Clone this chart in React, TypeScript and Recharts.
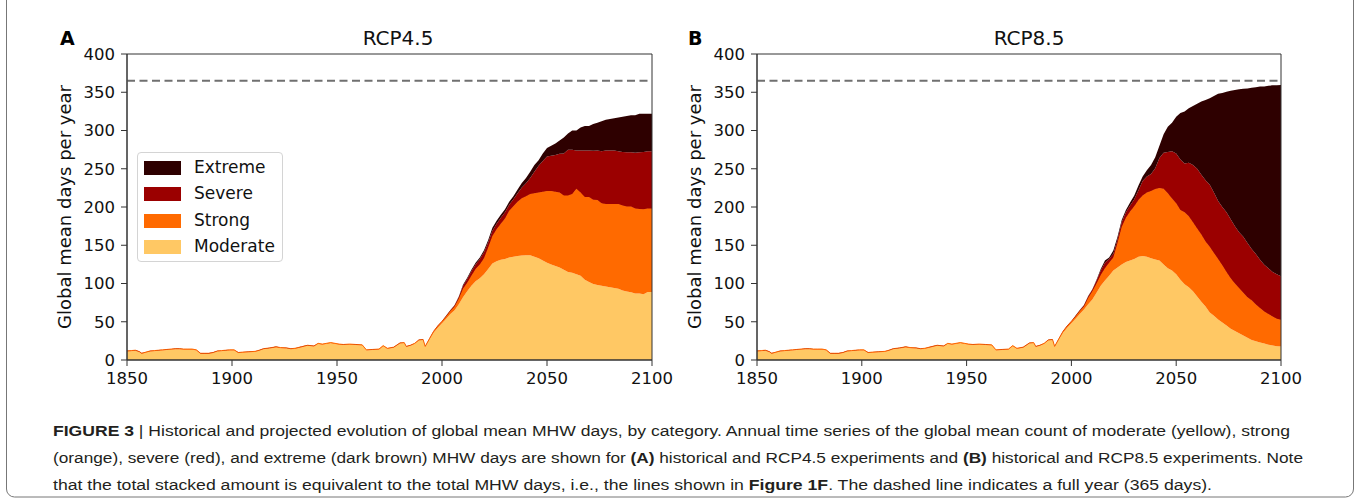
import React from 'react';
import { AreaChart, Area, XAxis, YAxis, ReferenceLine, ReferenceArea, Legend } from 'recharts';

// historical period, shared by both panels
const histYears = [
  1850, 1852, 1854, 1856, 1857, 1859, 1861, 1863, 1865, 1867,
  1869, 1871, 1873, 1875, 1877, 1879, 1881, 1883, 1885, 1887,
  1889, 1891, 1893, 1895, 1897, 1899, 1901, 1903, 1905, 1908,
  1911, 1913, 1915, 1918, 1921, 1923, 1926, 1928, 1930, 1933,
  1936, 1939, 1941, 1943, 1945, 1947, 1949, 1951, 1953, 1956,
  1959, 1962, 1964, 1967, 1970, 1972, 1974, 1977, 1980, 1982,
  1983, 1985, 1987, 1989, 1991, 1992, 1994, 1996, 1998, 2000,
  2002, 2004,
];
const histModerate = [
  11, 11.5, 12, 10, 8, 9.5, 11, 11.5, 12, 12.5,
  13, 13.5, 14, 14, 13.5, 13.5, 13.5, 12.5, 8, 8,
  8, 9, 11, 11.5, 12, 12.5, 12.5, 9, 9.5, 10,
  10.5, 12, 14, 15, 16.5, 15.5, 15, 14, 14.5, 16.5,
  18.5, 17.5, 21, 20, 21, 22, 21, 20, 19.5, 20,
  19.5, 19, 12.5, 13, 13.5, 18, 14.5, 16, 21.5, 22,
  17, 18.5, 21, 25.5, 26, 17, 26.5, 35.5, 42, 48,
  54, 60,
];
const histStrong = [
  0.8, 0.8, 0.8, 0.8, 0.8, 0.8, 0.8, 0.8, 0.8, 0.8,
  0.8, 0.8, 0.8, 0.8, 0.8, 0.8, 0.8, 0.8, 0.8, 0.8,
  0.8, 0.8, 0.8, 0.8, 0.8, 0.8, 0.8, 0.8, 0.8, 0.8,
  0.8, 0.8, 0.8, 0.8, 0.8, 0.8, 0.8, 0.8, 0.8, 0.8,
  0.8, 0.8, 0.8, 0.8, 0.8, 0.8, 0.8, 0.8, 0.8, 0.8,
  0.8, 0.8, 0.8, 0.8, 0.8, 0.8, 0.8, 0.8, 0.8, 0.8,
  0.8, 0.8, 0.8, 0.8, 0.8, 0.8, 1.2, 2, 2.5, 2.5,
  3, 4,
];
const histSevere = [
  0.2, 0.2, 0.2, 0.2, 0.2, 0.2, 0.2, 0.2, 0.2, 0.2,
  0.2, 0.2, 0.2, 0.2, 0.2, 0.2, 0.2, 0.2, 0.2, 0.2,
  0.2, 0.2, 0.2, 0.2, 0.2, 0.2, 0.2, 0.2, 0.2, 0.2,
  0.2, 0.2, 0.2, 0.2, 0.2, 0.2, 0.2, 0.2, 0.2, 0.2,
  0.2, 0.2, 0.2, 0.2, 0.2, 0.2, 0.2, 0.2, 0.2, 0.2,
  0.2, 0.2, 0.2, 0.2, 0.2, 0.2, 0.2, 0.2, 0.2, 0.2,
  0.2, 0.2, 0.2, 0.2, 0.2, 0.2, 0.3, 0.5, 0.5, 0.5,
  1, 1,
];
const histExtreme = [
  0, 0, 0, 0, 0, 0, 0, 0, 0, 0,
  0, 0, 0, 0, 0, 0, 0, 0, 0, 0,
  0, 0, 0, 0, 0, 0, 0, 0, 0, 0,
  0, 0, 0, 0, 0, 0, 0, 0, 0, 0,
  0, 0, 0, 0, 0, 0, 0, 0, 0, 0,
  0, 0, 0, 0, 0, 0, 0, 0, 0, 0,
  0, 0, 0, 0, 0, 0, 0, 0, 0, 0.1,
  0.2, 0.3,
];

// projections (same years for both scenarios)
const projYears = [
  2006, 2008, 2010, 2012, 2014, 2016, 2018, 2020, 2022, 2024,
  2026, 2028, 2030, 2032, 2034, 2036, 2038, 2040, 2042, 2044,
  2046, 2048, 2050, 2052, 2054, 2056, 2058, 2060, 2062, 2064,
  2066, 2068, 2070, 2072, 2074, 2076, 2078, 2080, 2082, 2084,
  2086, 2088, 2090, 2092, 2094, 2096, 2098, 2100,
];

const rcp45Moderate = [
  65, 73, 82, 90, 97, 103, 107, 112, 119, 126,
  129, 131, 132, 134, 135, 136, 136.5, 137, 137, 135,
  133, 130, 127, 125, 123, 121, 118, 115, 114, 112,
  110, 105, 102, 99.5, 98, 97, 96, 95, 94, 93,
  91, 89.5, 88.5, 87, 87, 86, 89, 89,
];
const rcp45Strong = [
  5, 7, 11, 11, 13, 16, 18, 21, 28, 36,
  42, 47, 53, 61, 66, 71, 75, 77, 80, 83,
  86, 90, 94, 96, 97, 98, 97, 100, 103, 112,
  109, 108, 111, 110, 111, 108, 108, 109, 110, 111,
  111, 111, 112, 111, 110.5, 111, 109, 109,
];
const rcp45Severe = [
  1.5, 2.5, 4, 5, 6, 6, 7, 8, 7, 7,
  7, 8, 8, 8, 9, 11, 14, 17, 21, 28,
  35, 40, 45, 46, 48, 50.5, 55, 60, 58, 50,
  55, 61, 61, 64, 65, 68, 70, 70, 70, 69,
  70, 71, 71, 73, 74, 75, 75, 75,
];
const rcp45Extreme = [
  0.5, 0.5, 1.5, 1.5, 2, 2, 2, 2.5, 3, 4,
  4, 4, 4, 4, 4, 5, 6, 7, 8, 9,
  7, 10, 11, 13, 15, 17.5, 21, 21, 25, 26,
  30, 32, 32, 35, 36, 39, 40, 41, 42, 44,
  46, 47.5, 48.5, 49, 50.5, 50, 49, 49,
];

const rcp85Moderate = [
  66, 73, 79, 88, 97, 104, 110, 117, 121, 125,
  128, 130, 132, 135, 136, 135, 133, 131.5, 130, 125,
  120, 117, 112, 105, 99, 95, 90, 83, 76, 70,
  62, 58, 53, 49, 45, 41, 38, 35, 32, 29,
  26, 24.5, 23, 21.5, 20, 19, 18, 17.5,
];
const rcp85Strong = [
  4, 8, 11, 12, 14, 16, 17, 17, 32, 49,
  58, 64, 69, 74, 79, 84, 88, 92, 95, 99,
  98, 94, 93, 91, 94, 93, 90, 89, 88, 85,
  86, 82, 79, 75, 70, 66, 62, 59, 56, 53,
  52, 48, 45, 42, 40, 38, 36, 35,
];
const rcp85Severe = [
  1.5, 2, 2, 4, 6, 7, 5, 5, 5, 6,
  7, 8, 9, 13, 19, 21, 22, 27, 39, 47,
  54, 62, 65, 66, 64, 70, 75, 78, 78, 80,
  81, 79, 76, 76, 78, 77, 75, 73, 73, 71,
  67, 66, 63, 61, 60, 58, 58, 57,
];
const rcp85Extreme = [
  0.5, 0.5, 0.5, 1, 2, 3, 2, 4, 3, 3,
  3, 4, 5, 6, 6, 8, 12, 14.5, 16, 24,
  33, 37, 48, 61, 68, 71, 77, 85, 96, 105,
  113, 126, 140, 149, 157.5, 168, 178, 187, 193.5, 202,
  211, 218, 226.5, 233, 238.5, 244, 247, 250,
];

const xTicks = [1850, 1900, 1950, 2000, 2050, 2100];
const yTicks = [0, 50, 100, 150, 200, 250, 300, 350, 400];
const FULL_YEAR = 365;

// only the strong layer gets an edge, which gives the thin orange rim on the historical part
const SERIES = [
  { key: 'moderate', name: 'Moderate', color: '#ffc864', edge: 0 },
  { key: 'strong', name: 'Strong', color: '#ff6a00', edge: 1 },
  { key: 'severe', name: 'Severe', color: '#9b0000', edge: 0 },
  { key: 'extreme', name: 'Extreme', color: '#2e0000', edge: 0 },
];

const FONT = '"DejaVu Sans", sans-serif';
const CAPTION_FONT = '"Liberation Sans Narrow", "Liberation Sans", Arial, sans-serif';

const makeRows = (years: number[], mod: number[], str: number[], sev: number[], ext: number[]) =>
  years.map((year, i) => ({ year, moderate: mod[i], strong: str[i], severe: sev[i], extreme: ext[i] }));

const histRows = makeRows(histYears, histModerate, histStrong, histSevere, histExtreme);
const rcp45Data = [...histRows, ...makeRows(projYears, rcp45Moderate, rcp45Strong, rcp45Severe, rcp45Extreme)];
const rcp85Data = [...histRows, ...makeRows(projYears, rcp85Moderate, rcp85Strong, rcp85Severe, rcp85Extreme)];

const LegendBox = () => {
  const items = [...SERIES].reverse();
  return (
    <div style={{
      position: 'relative', width: 146, height: 110, boxSizing: 'border-box',
      border: '1px solid #d4d4d4', borderRadius: 4, background: 'rgba(255,255,255,0.8)',
    }}>
      {items.map((it, i) => (
        <div key={it.key} style={{ position: 'absolute', left: 0, top: 7 + i * 26.3, height: 16, width: 146 }}>
          <div style={{ position: 'absolute', left: 6, top: 1, width: 37, height: 14, background: it.color }} />
          <div style={{
            position: 'absolute', left: 56, top: -3, fontFamily: FONT, fontSize: 17,
            lineHeight: '20px', color: '#111', whiteSpace: 'nowrap',
          }}>{it.name}</div>
        </div>
      ))}
    </div>
  );
};

const Panel = ({ data, left, rightMargin, legend }: { data: any[]; left: number; rightMargin: number; legend?: boolean }) => (
  <div style={{ position: 'absolute', left, top: 0 }}>
    <AreaChart width={680} height={400} data={data} margin={{ top: 54, right: rightMargin, bottom: 10, left: 0 }}>
      <XAxis
        dataKey="year" type="number" domain={[1850, 2100]} ticks={xTicks} height={30}
        tickSize={6} tickMargin={6} axisLine={{ stroke: '#333' }} tickLine={{ stroke: '#333' }}
        tick={{ fill: '#111', fontSize: 16.5, fontFamily: FONT }}
      />
      <YAxis
        type="number" domain={[0, 400]} ticks={yTicks} width={127}
        tickSize={6} tickMargin={6} axisLine={{ stroke: '#333' }} tickLine={{ stroke: '#333' }}
        tick={{ fill: '#111', fontSize: 16.5, fontFamily: FONT }}
        label={{
          value: 'Global mean days per year', angle: -90, position: 'insideLeft', offset: 65,
          style: { textAnchor: 'middle', fontSize: 18, fill: '#111', fontFamily: FONT },
        }}
      />
      {SERIES.map((s) => (
        <Area
          key={s.key} type="linear" dataKey={s.key} name={s.name} stackId="1"
          fill={s.color} fillOpacity={1} stroke={s.edge ? s.color : 'none'} strokeWidth={s.edge}
          isAnimationActive={false} dot={false} activeDot={false}
        />
      ))}
      <ReferenceLine y={FULL_YEAR} stroke="#707070" strokeWidth={2} strokeDasharray="8 4.5" />
      <ReferenceArea x1={1850} x2={2100} y1={0} y2={400} fill="none" stroke="#333" strokeWidth={1} />
      {legend && (
        <Legend
          layout="horizontal" verticalAlign="middle" align="center"
          content={<LegendBox />}
          wrapperStyle={{ position: 'absolute', left: 137, top: 152, width: 146, height: 110 }}
        />
      )}
    </AreaChart>
  </div>
);

export default function App() {
  return (
    <div style={{ position: 'absolute', left: 0, top: 0, width: 1358, height: 502, background: '#fff', overflow: 'hidden' }}>
      <Panel data={rcp45Data} left={0} rightMargin={28} legend />
      <Panel data={rcp85Data} left={630} rightMargin={29} />
      <svg width={1358} height={502} style={{ position: 'absolute', left: 0, top: 0, pointerEvents: 'none' }}>
        <rect x={6.5} y={-10} width={1347} height={507} rx={8} fill="none" stroke="#777" strokeWidth={1} />
        <text x={60} y={45} fontFamily={FONT} fontWeight="bold" fontSize={19} fill="#000">A</text>
        <text x={688} y={45} fontFamily={FONT} fontWeight="bold" fontSize={19} fill="#000">B</text>
        <text x={398} y={45} textAnchor="middle" fontFamily={FONT} fontSize={20} fill="#111">RCP4.5</text>
        <text x={1029} y={45} textAnchor="middle" fontFamily={FONT} fontSize={20} fill="#111">RCP8.5</text>
        <g fontFamily={CAPTION_FONT} fontSize={15.5} fill="#231f20">
          <text x={53} y={436} textLength={1237} lengthAdjust="spacingAndGlyphs">
            <tspan fontWeight="bold">FIGURE 3</tspan>
            <tspan> | Historical and projected evolution of global mean MHW days, by category. Annual time series of the global mean count of moderate (yellow), strong</tspan>
          </text>
          <text x={53} y={463} textLength={1250} lengthAdjust="spacingAndGlyphs">
            <tspan>(orange), severe (red), and extreme (dark brown) MHW days are shown for </tspan>
            <tspan fontWeight="bold">(A)</tspan>
            <tspan> historical and RCP4.5 experiments and </tspan>
            <tspan fontWeight="bold">(B)</tspan>
            <tspan> historical and RCP8.5 experiments. Note</tspan>
          </text>
          <text x={53} y={490} textLength={1159} lengthAdjust="spacingAndGlyphs">
            <tspan>that the total stacked amount is equivalent to the total MHW days, i.e., the lines shown in </tspan>
            <tspan fontWeight="bold">Figure 1F</tspan>
            <tspan>. The dashed line indicates a full year (365 days).</tspan>
          </text>
        </g>
      </svg>
    </div>
  );
}
